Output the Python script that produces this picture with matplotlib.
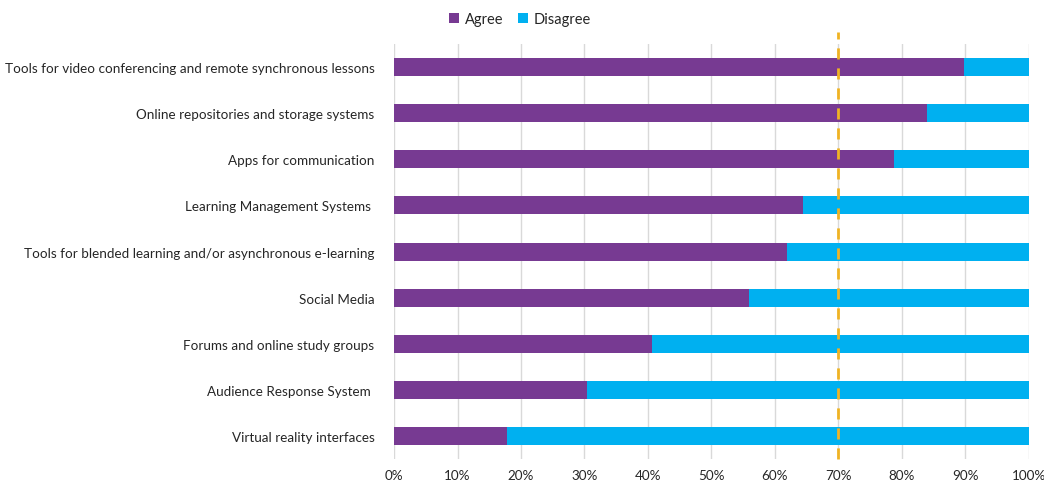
import numpy as np
import matplotlib
matplotlib.use("Agg")
import matplotlib.pyplot as plt
from matplotlib.ticker import PercentFormatter

plt.rcParams['font.family'] = ['Lato', 'DejaVu Sans']

categories = [
    "Tools for video conferencing and remote synchronous lessons",
    "Online repositories and storage systems",
    "Apps for communication",
    "Learning Management Systems ",
    "Tools for blended learning and/or asynchronous e-learning",
    "Social Media",
    "Forums and online study groups",
    "Audience Response System ",
    "Virtual reality interfaces",
]
agree = [89.8, 84.0, 78.8, 64.4, 61.9, 55.9, 40.7, 30.4, 17.8]
disagree = [100 - a for a in agree]
threshold = 70

purple = "#773A92"
blue = "#00B0F0"

fig = plt.figure(figsize=(10.44, 4.85), dpi=100)
ax = fig.add_axes([0.3774, 0.0515, 0.6082, 0.8555])

y = np.arange(len(categories))[::-1]
ax.barh(y, agree, height=0.39, color=purple, label="Agree", zorder=2)
ax.barh(y, disagree, left=agree, height=0.39, color=blue, label="Disagree", zorder=2)

ax.axvline(threshold, ymin=0, ymax=1.03, color="#F0B323", lw=2,
           ls=(0, (4, 3.2)), clip_on=False, zorder=3)

ax.set_xlim(0, 100)
ax.set_ylim(-0.5, len(categories) - 0.5)
ax.set_xticks(np.arange(0, 101, 10))
ax.xaxis.set_major_formatter(PercentFormatter(decimals=0))
ax.set_yticks(y)
ax.set_yticklabels(categories)
ax.grid(axis="x", color="#D9D9D9", lw=1, zorder=0)
for s in ax.spines.values():
    s.set_visible(False)
ax.tick_params(length=0, labelsize=9.7, colors="#262626")
ax.tick_params(axis="y", pad=14)
ax.tick_params(axis="x", pad=7)

ax.legend(loc="center", bbox_to_anchor=(0.198, 1.06), ncol=2, frameon=False,
          fontsize=10.5, handlelength=0.7, handleheight=0.7, handletextpad=0.4,
          columnspacing=1.0, labelcolor="#262626")

fig.savefig("out.png", dpi=100)
